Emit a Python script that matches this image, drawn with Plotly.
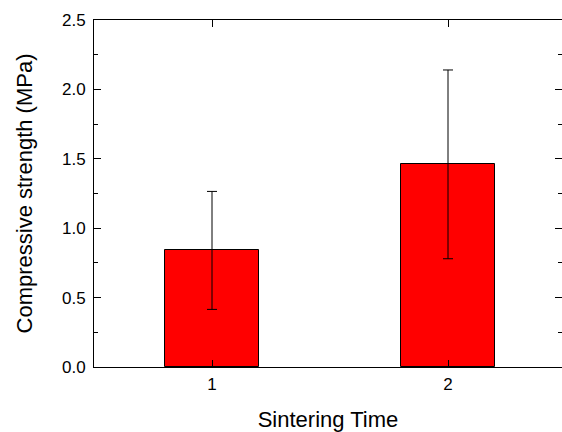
import plotly.graph_objects as go

# Data
sintering_time = [1, 2]
tick_labels = ["1", "2"]
strength_mpa = [0.84, 1.46]
strength_err = [0.425, 0.68]

FONT = "Liberation Sans, Arial, Helvetica, sans-serif"

fig = go.Figure()
fig.add_trace(go.Bar(
    x=sintering_time,
    y=strength_mpa,
    width=0.4,
    marker=dict(color="#FF0000", line=dict(color="black", width=1)),
    error_y=dict(type="data", array=strength_err, visible=True,
                 color="black", thickness=1, width=5),
    showlegend=False,
))

fig.update_layout(
    width=562, height=432,
    margin=dict(l=94, r=0, t=20, b=65),
    paper_bgcolor="white", plot_bgcolor="white",
    font=dict(family=FONT, size=17, color="black"),
    bargap=0,
)

fig.update_xaxes(
    range=[0.5, 2.483],
    tickvals=sintering_time, ticktext=tick_labels,
    ticks="inside", ticklen=7, tickwidth=1, tickcolor="black",
    showline=True, linecolor="black", linewidth=1, mirror="ticks",
    showgrid=False, zeroline=False,
    tickfont=dict(size=17),
    ticklabelstandoff=2,
    title=dict(text="Sintering Time", font=dict(size=22), standoff=20),
)

fig.update_yaxes(
    range=[0, 2.5],
    tick0=0, dtick=0.5, tickformat=".1f",
    ticks="inside", ticklen=7, tickwidth=1, tickcolor="black",
    minor=dict(dtick=0.25, tick0=0, ticks="inside", ticklen=4,
               tickwidth=1, tickcolor="black"),
    showline=True, linecolor="black", linewidth=1, mirror="ticks",
    showgrid=False, zeroline=False,
    tickfont=dict(size=17),
    ticklabelstandoff=4,
    title=dict(text="Compressive strength (MPa)", font=dict(size=22), standoff=23),
)

# remove the page's default body margin so the figure fills the window exactly
fig.write_html(
    "out.html",
    config={"displayModeBar": False},
    post_script="document.body.style.margin='0';document.body.style.overflow='hidden';",
)
